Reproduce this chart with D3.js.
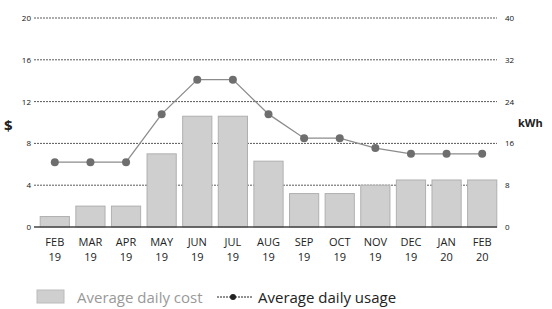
<!DOCTYPE html>
<html>
<head>
<meta charset="utf-8">
<script src="https://cdn.jsdelivr.net/npm/d3@7"></script>
<style>
  body { margin: 0; background: #fff; }
  svg { font-family: "Open Sans", "DejaVu Sans", sans-serif; }
</style>
</head>
<body>
<div id="chart"></div>
<script>
// months shown on the x axis (two lines each)
const months = ['FEB', 'MAR', 'APR', 'MAY', 'JUN', 'JUL', 'AUG', 'SEP', 'OCT', 'NOV', 'DEC', 'JAN', 'FEB'];
const years = ['19', '19', '19', '19', '19', '19', '19', '19', '19', '19', '19', '20', '20'];
// average daily cost ($)
const cost = [1, 2, 2, 7, 10.6, 10.6, 6.3, 3.2, 3.2, 4, 4.5, 4.5, 4.5];
// average daily usage (kWh)
const usage = [12.4, 12.4, 12.4, 21.6, 28.2, 28.2, 21.6, 17, 17, 15.1, 14, 14, 14];
const costTicks = [0, 4, 8, 12, 16, 20];
const usageTicks = [0, 8, 16, 24, 32, 40];

const width = 552, height = 309;
const plotLeft = 37, plotRight = 500, plotTop = 18, plotBottom = 227;

const svg = d3.select('#chart').append('svg')
  .attr('width', width)
  .attr('height', height);

const keys = months.map((m, i) => i);
const x = d3.scaleBand().domain(keys).range([plotLeft, plotRight]).paddingInner(0.18).paddingOuter(0.09);
const yCost = d3.scaleLinear().domain([0, 20]).range([plotBottom, plotTop]);
const yUsage = d3.scaleLinear().domain([0, 40]).range([plotBottom, plotTop]);

// grid lines
svg.append('g')
  .selectAll('line')
  .data(costTicks.filter(t => t > 0))
  .enter().append('line')
  .attr('x1', 34).attr('x2', 497)
  .attr('y1', d => yCost(d)).attr('y2', d => yCost(d))
  .attr('stroke', '#5a5a5a')
  .attr('stroke-width', 1)
  .attr('stroke-dasharray', '2,1');

// left axis labels
svg.append('g')
  .selectAll('text')
  .data(costTicks)
  .enter().append('text')
  .attr('x', 31)
  .attr('y', d => yCost(d) + 3)
  .attr('text-anchor', 'end')
  .attr('font-size', 8)
  .attr('fill', '#111')
  .text(d => d);

// right axis labels
svg.append('g')
  .selectAll('text')
  .data(usageTicks)
  .enter().append('text')
  .attr('x', 505)
  .attr('y', d => yUsage(d) + 3)
  .attr('font-size', 8)
  .attr('fill', '#111')
  .text(d => d);

svg.append('text').attr('x', 4).attr('y', 131)
  .attr('font-size', 15).attr('font-weight', 'bold').attr('fill', '#222').text('$');
svg.append('text').attr('x', 518).attr('y', 127)
  .attr('font-size', 11).attr('font-weight', 'bold').attr('fill', '#222').text('kWh');

// bars
svg.append('g')
  .selectAll('rect')
  .data(cost)
  .enter().append('rect')
  .attr('x', (d, i) => x(i))
  .attr('y', d => yCost(d))
  .attr('width', x.bandwidth())
  .attr('height', d => plotBottom - yCost(d))
  .attr('fill', '#cfcfcf')
  .attr('stroke', '#b0b0b0')
  .attr('stroke-width', 1);

// baseline
svg.append('line')
  .attr('x1', 34).attr('x2', 497)
  .attr('y1', plotBottom).attr('y2', plotBottom)
  .attr('stroke', '#444').attr('stroke-width', 1.5);

// usage line
const line = d3.line()
  .x((d, i) => x(i) + x.bandwidth() / 2)
  .y(d => yUsage(d));

svg.append('path')
  .datum(usage)
  .attr('d', line)
  .attr('fill', 'none')
  .attr('stroke', '#8c8c8c')
  .attr('stroke-width', 1.3);

svg.append('g')
  .selectAll('circle')
  .data(usage)
  .enter().append('circle')
  .attr('cx', (d, i) => x(i) + x.bandwidth() / 2)
  .attr('cy', d => yUsage(d))
  .attr('r', 4)
  .attr('fill', '#6e6e6e');

// x labels
const xl = svg.append('g')
  .selectAll('text')
  .data(keys)
  .enter().append('text')
  .attr('text-anchor', 'middle')
  .attr('font-size', 11)
  .attr('fill', '#222');
xl.append('tspan')
  .attr('x', i => x(i) + x.bandwidth() / 2)
  .attr('y', 246)
  .text(i => months[i]);
xl.append('tspan')
  .attr('x', i => x(i) + x.bandwidth() / 2)
  .attr('y', 261)
  .text(i => years[i]);

// legend
const lg = svg.append('g');
lg.append('rect').attr('x', 37).attr('y', 290).attr('width', 27).attr('height', 13)
  .attr('fill', '#cfcfcf').attr('stroke', '#bbb');
lg.append('text').attr('x', 77).attr('y', 303).attr('font-size', 15).attr('fill', '#999')
  .text('Average daily cost');
lg.append('line').attr('x1', 217).attr('x2', 252).attr('y1', 297).attr('y2', 297)
  .attr('stroke', '#222').attr('stroke-width', 1).attr('stroke-dasharray', '2,1');
lg.append('circle').attr('cx', 233).attr('cy', 297).attr('r', 3).attr('fill', '#222');
lg.append('text').attr('x', 258).attr('y', 303).attr('font-size', 15).attr('fill', '#222')
  .text('Average daily usage');
</script>
</body>
</html>
